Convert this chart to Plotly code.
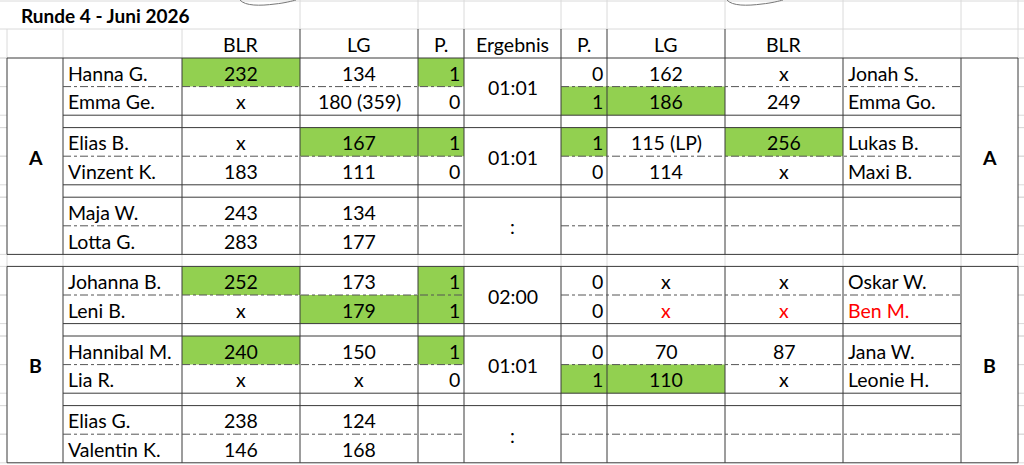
import plotly.graph_objects as go

# ---- data ----
title = "Runde 4 - Juni 2026"
groups = ["A", "B"]
headers = ["", "", "BLR", "LG", "P.", "Ergebnis", "P.", "LG", "BLR", "", ""]

names_left = ["Hanna G.", "Emma Ge.", "Elias B.", "Vinzent K.", "Maja W.", "Lotta G.",
              "Johanna B.", "Leni B.", "Hannibal M.", "Lia R.", "Elias G.", "Valentin K."]
blr_left = ["232", "x", "x", "183", "243", "283", "252", "x", "240", "x", "238", "146"]
lg_left = ["134", "180 (359)", "167", "111", "134", "177", "173", "179", "150", "x", "124", "168"]
p_left = ["1", "0", "1", "0", "", "", "1", "1", "1", "0", "", ""]
results = ["01:01", "01:01", ":", "02:00", "01:01", ":"]
p_right = ["0", "1", "1", "0", "", "", "0", "0", "0", "1", "", ""]
lg_right = ["162", "186", "115 (LP)", "114", "", "", "x", "x", "70", "110", "", ""]
blr_right = ["x", "249", "256", "x", "", "", "x", "x", "87", "x", "", ""]
names_right = ["Jonah S.", "Emma Go.", "Lukas B.", "Maxi B.", "", "", "Oskar W.", "Ben M.",
               "Jana W.", "Leonie H.", "", ""]

# highlighted (green) cells: column index -> row indices
green = {2: [0, 6, 8], 3: [2, 7], 4: [0, 2, 6, 7, 8], 6: [1, 2, 9], 7: [1, 9], 8: [2]}
# red text: (row, column)
red = [(7, 7), (7, 8), (7, 9)]

# ---- layout geometry ----
X = [7, 63, 182, 300, 418, 464, 561, 607, 725, 843, 961, 1018]
HEAD_TOP, HEAD_BOT = 29, 58
BLOCK_TOP = [58, 266.4]
RH, SH = 28.6, 12.4
BLOCK_H = 6 * RH + 2 * SH

FONT = "Lato"
FS = 19.5
GRID = "#dadada"
LINE = "#3a3a3a"
GREEN = "#92d050"


def row_top(i):
    b, r = divmod(i, 6)
    return BLOCK_TOP[b] + (r // 2) * (2 * RH + SH) + (r % 2) * RH


def line(x0, y0, x1, y1, color=LINE, dash=None):
    return dict(type="line", x0=x0, y0=y0, x1=x1, y1=y1, xref="x", yref="y",
                line=dict(color=color, width=1, dash=dash))


shapes = []
annotations = []

# faint spreadsheet grid
shapes.append(line(0, 1, 1024, 1, GRID))
shapes.append(line(0, HEAD_TOP, 1024, HEAD_TOP, GRID))
for x in X[3:]:
    shapes.append(line(x, 0, x, HEAD_TOP, GRID))
for x in [X[0], X[1], X[2], X[9], X[10], X[11]]:
    shapes.append(line(x, HEAD_TOP, x, HEAD_BOT, GRID))
gap_top = BLOCK_TOP[0] + BLOCK_H
for x in X:
    shapes.append(line(x, gap_top, x, BLOCK_TOP[1], GRID))
edges = [HEAD_BOT]
for i in range(12):
    edges += [row_top(i), row_top(i) + RH]
edges += [row_top(i) + RH + SH for i in (1, 3, 7, 9)]
for y in edges:
    shapes.append(line(0, y, X[0], y, GRID))
    shapes.append(line(X[-1], y, 1024, y, GRID))

# green cells
for c, rows in green.items():
    for i in rows:
        shapes.append(dict(type="rect", x0=X[c], x1=X[c + 1], y0=row_top(i), y1=row_top(i) + RH,
                           xref="x", yref="y", fillcolor=GREEN, line=dict(width=0), layer="below"))

# header borders
for x in X[3:9]:
    shapes.append(line(x, HEAD_TOP, x, HEAD_BOT))

# block borders
for b in range(2):
    top = BLOCK_TOP[b]
    bot = top + BLOCK_H
    shapes.append(line(X[0], top, X[-1], top))
    shapes.append(line(X[0], bot, X[-1], bot))
    for x in X:
        shapes.append(line(x, top, x, bot))
    for p in range(3):
        i = b * 6 + p * 2
        mid = row_top(i) + RH
        shapes.append(line(X[1], mid, X[5], mid, "#555555", "8px,3px,3px,3px"))
        shapes.append(line(X[6], mid, X[10], mid, "#555555", "8px,3px,3px,3px"))
        if p < 2:
            shapes.append(line(X[1], mid + RH, X[10], mid + RH))
            shapes.append(line(X[1], mid + RH + SH, X[10], mid + RH + SH))

# little curved shapes peeking in at the top
for x0 in (240, 727):
    shapes.append(dict(type="path", xref="x", yref="y",
                       path=f"M{x0},0 C{x0+5},6 {x0+20},6 {x0+35},4 C{x0+45},3 {x0+52},1 {x0+56},0",
                       line=dict(color="#777777", width=1)))


def text(x, y, s, anchor="center", color="black", bold=False, size=FS):
    annotations.append(dict(x=x, y=y, xref="x", yref="y", text=f"<b>{s}</b>" if bold else s,
                            showarrow=False, xanchor=anchor, yanchor="middle",
                            font=dict(family=FONT, size=size, color=color)))


text(19, 15, title, anchor="left", bold=True, size=19)
for c, h in enumerate(headers):
    if h:
        text((X[c] + X[c + 1]) / 2, (HEAD_TOP + HEAD_BOT) / 2 + 1, h)

columns = {1: names_left, 2: blr_left, 3: lg_left, 4: p_left,
           6: p_right, 7: lg_right, 8: blr_right, 9: names_right}
for c, vals in columns.items():
    for i, v in enumerate(vals):
        if not v:
            continue
        y = row_top(i) + RH / 2 + 1
        col = "#ff0000" if (i, c) in red else "black"
        if c in (1, 9):
            text(X[c] + 3, y, v, anchor="left", color=col)
        elif c in (4, 6):
            text(X[c + 1] - 2, y, v, anchor="right", color=col)
        else:
            text((X[c] + X[c + 1]) / 2, y, v, color=col)

for k, r in enumerate(results):
    i = k * 2
    text((X[5] + X[6]) / 2, row_top(i) + RH + 1, r)

for b, g in enumerate(groups):
    y = BLOCK_TOP[b] + BLOCK_H / 2 + 1
    text((X[0] + X[1]) / 2, y, g, bold=True)
    text((X[10] + X[11]) / 2, y, g, bold=True)

fig = go.Figure()
fig.update_layout(
    width=1024, height=465,
    margin=dict(l=0, r=0, t=0, b=0),
    paper_bgcolor="white", plot_bgcolor="white",
    xaxis=dict(range=[0, 1024], visible=False, fixedrange=True),
    yaxis=dict(range=[465, 0], visible=False, fixedrange=True),
    shapes=shapes, annotations=annotations, showlegend=False,
)
fig.write_html("out.html", config={"displayModeBar": False},
               post_script="document.body.style.margin='0';document.body.style.overflow='hidden';")
